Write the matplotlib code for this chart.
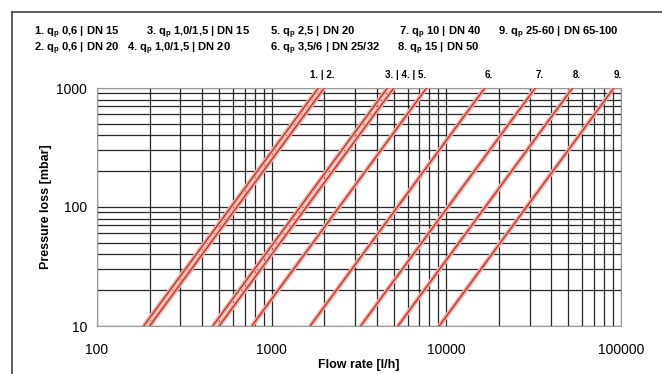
import numpy as np
import matplotlib.pyplot as plt
from matplotlib.lines import Line2D

plt.rcParams['font.family'] = ['Liberation Sans', 'DejaVu Sans']

# расход (л/ч) при 10 мбар и при 1000 мбар для каждой линии
q_at_10 = [185, 200, 460, 500, 770, 1660, 3230, 5280, 9100]
q_at_1000 = [1850, 2000, 4600, 5000, 7700, 16600, 32300, 52800, 91000]
p_ends = [10, 1000]

legend_rows = [
    ['1. q$_\\mathregular{p}$ 0,6 | DN 15', '3. q$_\\mathregular{p}$ 1,0/1,5 | DN 15',
     '5. q$_\\mathregular{p}$ 2,5 | DN 20', '7. q$_\\mathregular{p}$ 10 | DN 40',
     '9. q$_\\mathregular{p}$ 25-60 | DN 65-100'],
    ['2. q$_\\mathregular{p}$ 0,6 | DN 20', '4. q$_\\mathregular{p}$ 1,0/1,5 | DN 20',
     '6. q$_\\mathregular{p}$ 3,5/6 | DN 25/32', '8. q$_\\mathregular{p}$ 15 | DN 50'],
]
legend_x = [[34, 146, 270, 399, 498], [34, 127, 270, 397]]
legend_y = [33, 49]

# подписи над линиями: текст и номер линии, к которой привязан
top_labels = ['1. | 2.', '3. | 4. | 5.', '6.', '7.', '8.', '9.']
top_label_line = [0, 2, 5, 6, 7, 8]

W, H = 662, 374
fig = plt.figure(figsize=(W / 100, H / 100), dpi=100)
ax = fig.add_axes([97 / W, 1 - 326 / H, (621 - 97) / W, (326 - 88) / H])

ax.set_xscale('log')
ax.set_yscale('log')
ax.set_xlim(100, 100000)
ax.set_ylim(10, 1000)

ax.grid(True, which='both', color='black', linewidth=0.9, alpha=0.85)
ax.set_axisbelow(True)
for s in ax.spines.values():
    s.set_color('#999999')
    s.set_linewidth(0.8)

for q0, q1 in zip(q_at_10, q_at_1000):
    ax.plot([q0, q1], p_ends, color='#f3b0a8', lw=3.2, solid_capstyle='butt', zorder=3)
    ax.plot([q0, q1], p_ends, color='#c8322b', lw=1.0, zorder=4)

for txt, i in zip(top_labels, top_label_line):
    ha = 'left' if txt.startswith('3.') else 'center'
    dx = -2 if ha == 'left' else 3
    ax.annotate(txt, (q_at_1000[i], 1000), xytext=(dx, 9), textcoords='offset points',
                ha=ha, va='center', fontsize=7, fontweight='bold')

ax.set_xticks([100, 1000, 10000, 100000])
ax.set_xticklabels(['100', '1000', '10000', '100000'])
ax.set_yticks([10, 100, 1000])
ax.set_yticklabels(['10', '100', '1000'])
ax.tick_params(which='both', length=0)
ax.tick_params(axis='x', pad=12, labelsize=10)
ax.tick_params(axis='y', pad=7, labelsize=10)

ax.set_xlabel('Flow rate [l/h]', fontsize=9, fontweight='bold', labelpad=2)
ax.set_ylabel('Pressure loss [mbar]', fontsize=9, fontweight='bold', labelpad=3)

for row, xs, y in zip(legend_rows, legend_x, legend_y):
    for txt, x in zip(row, xs):
        fig.text(x / W, 1 - y / H, txt, fontsize=8, fontweight='bold', va='center')

# рамка сверху и слева
fig.add_artist(Line2D([12 / W, 1], [1 - 12 / H, 1 - 12 / H], color='#444444', lw=1.2))
fig.add_artist(Line2D([12 / W, 12 / W], [0, 1 - 12 / H], color='#444444', lw=1.2))

fig.savefig('out.png', dpi=100)
